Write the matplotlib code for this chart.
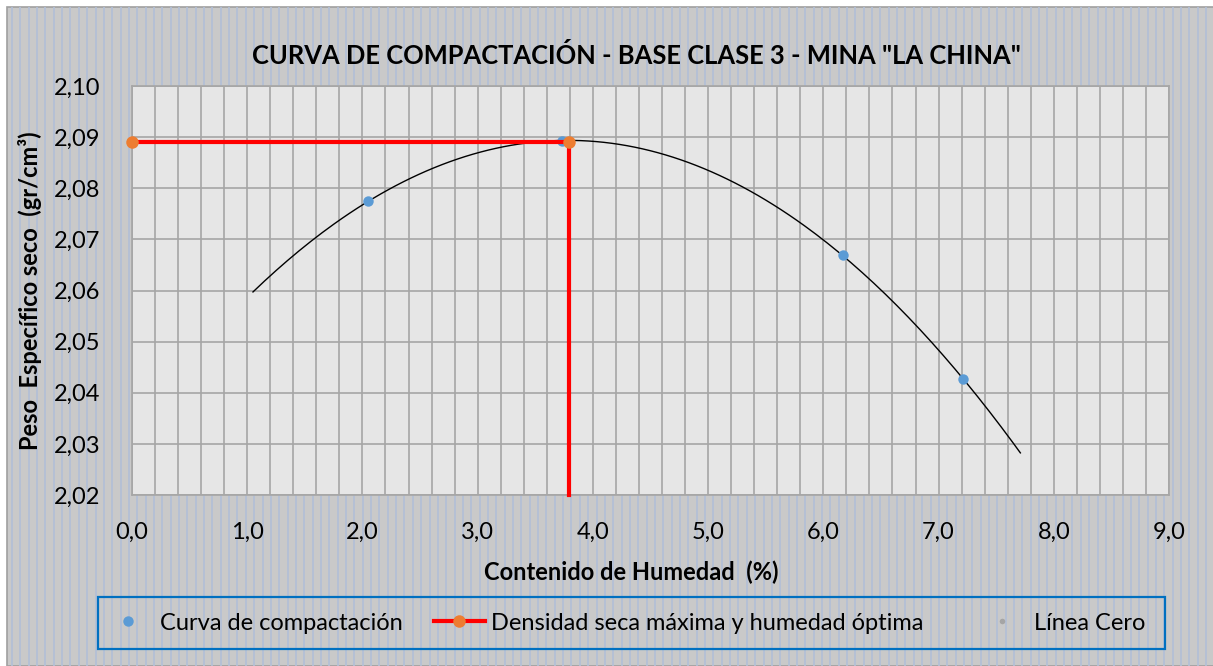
import numpy as np
import matplotlib
matplotlib.use("Agg")
import matplotlib.pyplot as plt
from matplotlib.lines import Line2D
from matplotlib.patches import Rectangle
from matplotlib.ticker import FuncFormatter, MultipleLocator

plt.rcParams['font.family'] = ['Lato', 'DejaVu Sans']

# datos del ensayo
humedad = [2.05, 3.735, 6.17, 7.21]
densidad = [2.0775, 2.0892, 2.0670, 2.0427]

# densidad seca maxima y humedad optima
hum_opt = 3.79
dens_max = 2.0891
x_opt = [0.0, hum_opt, hum_opt]
y_opt = [dens_max, dens_max, 2.02]

# linea cero
x_cero = [0.0, 9.0]
y_cero = [0.0, 0.0]

# rango de la linea de tendencia
x_ini, x_fin = 1.05, 7.71

W, H = 1213, 666
fig = plt.figure(figsize=(W / 100, H / 100), dpi=100)
fig.patch.set_facecolor('white')

# fondo rayado del grafico
fig.add_artist(Rectangle((7 / W, 0), 1, 1 - 7 / H, transform=fig.transFigure,
                         facecolor='#c9c9c9', edgecolor='#a0a0a0', lw=1.2, zorder=-10))
for px in np.arange(12, W, 8.35):
    fig.add_artist(Line2D([px / W, px / W], [0, 1 - 8 / H], transform=fig.transFigure,
                          color='#b3c0d6', lw=1.3, zorder=-9))

ax = fig.add_axes([132 / W, 1 - 495 / H, (1169 - 132) / W, (495 - 86) / H])
ax.set_facecolor('#e6e6e6')

coef = np.polyfit(humedad, densidad, 2)
xs = np.linspace(x_ini, x_fin, 200)
ax.plot(xs, np.polyval(coef, xs), color='black', lw=1.0, zorder=3)

h1, = ax.plot(humedad, densidad, 'o', color='#5b9bd5', ms=7.5, mec='none', zorder=4,
              label='Curva de compactación')
h2, = ax.plot(x_opt, y_opt, '-', color='#ff0000', lw=3, marker='o', markevery=[0, 1],
              mfc='#ed7d31', mec='none', ms=9, zorder=5, clip_on=False,
              label='Densidad seca máxima y humedad óptima')
h3, = ax.plot(x_cero, y_cero, 'o', color='#a5a5a5', ms=4, mec='none',
              label='Línea Cero')

ax.set_xlim(0, 9)
ax.set_ylim(2.02, 2.10)
ax.xaxis.set_major_locator(MultipleLocator(1))
ax.xaxis.set_minor_locator(MultipleLocator(0.2))
ax.yaxis.set_major_locator(MultipleLocator(0.01))
ax.xaxis.set_major_formatter(FuncFormatter(lambda v, p: f'{v:.1f}'.replace('.', ',')))
ax.yaxis.set_major_formatter(FuncFormatter(lambda v, p: f'{v:.2f}'.replace('.', ',')))
ax.grid(which='both', axis='x', color='#a6a6a6', lw=1.2)
ax.grid(which='major', axis='y', color='#a6a6a6', lw=1.2)
ax.set_axisbelow(True)
ax.tick_params(which='both', length=0, labelsize=17)
ax.tick_params(axis='y', pad=23)
ax.tick_params(axis='x', pad=19)
for s in ax.spines.values():
    s.set_color('#a6a6a6')
    s.set_linewidth(1.2)

ax.set_xlabel('Contenido de Humedad  (%)', fontsize=17, fontweight='bold')
ax.set_ylabel('Peso  Específico seco  (gr/cm³)', fontsize=17, fontweight='bold')
ax.xaxis.label.set_va('center')
ax.yaxis.label.set_va('center')
ax.xaxis.set_label_coords((631 - 132) / 1037, (495 - 572) / 409)
ax.yaxis.set_label_coords((30 - 132) / 1037, 0.5)
fig.text(636 / W, 1 - 55 / H, 'CURVA DE COMPACTACIÓN - BASE CLASE 3 - MINA "LA CHINA"',
         ha='center', va='center', fontsize=18.4, fontweight='bold')

# recuadro de la leyenda
fig.add_artist(Rectangle((98 / W, 1 - 649 / H), (1165 - 98) / W, (649 - 597) / H,
                         transform=fig.transFigure, facecolor='none',
                         edgecolor='#0070c0', lw=1.6))
for h, x0 in [(h1, 103), (h2, 434), (h3, 977)]:
    fig.legend(handles=[h], loc='center left', bbox_to_anchor=(x0 / W, 1 - 623 / H),
               frameon=False, fontsize=17, handlelength=2.15, handletextpad=0.25,
               borderaxespad=0, borderpad=0)

fig.savefig('out.png', dpi=100)
